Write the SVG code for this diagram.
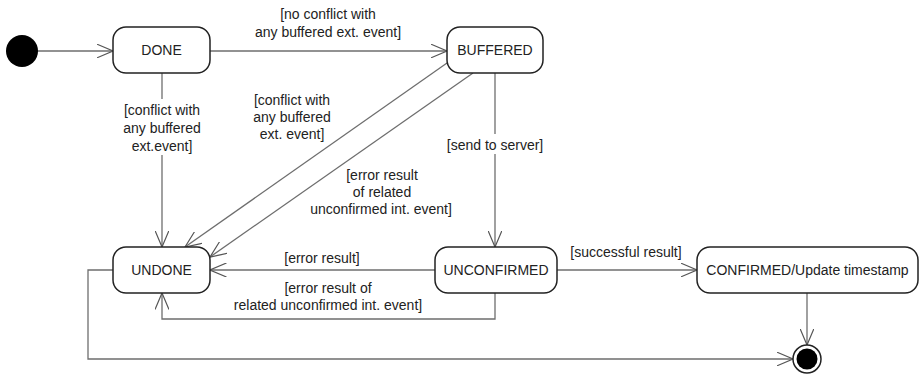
<svg xmlns="http://www.w3.org/2000/svg" width="920" height="374" viewBox="0 0 920 374">
  <style>
    .state rect { fill: #ffffff; stroke: #222222; stroke-width: 1.5; }
    .state text { font-family: "Liberation Sans", Arial, sans-serif; font-size: 14px; fill: #222222; text-anchor: middle; }
    .edge { fill: none; stroke: #6e6e6e; stroke-width: 1.3; marker-end: url(#open); }
    .label { font-family: "Liberation Sans", Arial, sans-serif; font-size: 14px; fill: #222222; text-anchor: middle; }
    .mask { fill: #ffffff; }
  </style>
  <defs>
    <marker id="open" viewBox="0 0 17 14" refX="16.5" refY="7" markerWidth="17" markerHeight="14" markerUnits="userSpaceOnUse" orient="auto">
      <path d="M0,0 L16.5,7 L0,14" fill="none" stroke="#555555" stroke-width="1.2"/>
    </marker>
  </defs>
  <rect width="920" height="374" fill="#ffffff"/>

  <!-- transitions -->
  <g id="connectors">
    <path class="edge" d="M38,51 L113,51"/>
    <path class="edge" d="M210,51 L447,51"/>
    <path class="edge" d="M162,73 L162,247"/>
    <path class="edge" d="M447,63 L185,247"/>
    <path class="edge" d="M473,73 L210,257"/>
    <path class="edge" d="M495,73 L495,247"/>
    <path class="edge" d="M435,270 L210,270"/>
    <path class="edge" d="M495,293 L495,319 L162,319 L162,293"/>
    <path class="edge" d="M557,270 L697,270"/>
    <path class="edge" d="M807,293 L807,345"/>
    <path class="edge" d="M113,270 L88,270 L88,359 L793,359"/>

    <!-- guard labels -->
    <text class="label" x="328" y="19">[no conflict with</text>
    <text class="label" x="328" y="37">any buffered ext. event]</text>

    <rect class="mask" x="118" y="99" width="88" height="56"/>
    <text class="label" x="162" y="115">[conflict with</text>
    <text class="label" x="162" y="133">any buffered</text>
    <text class="label" x="162" y="151">ext.event]</text>

    <text class="label" x="292" y="105">[conflict with</text>
    <text class="label" x="292" y="122">any buffered</text>
    <text class="label" x="292" y="139">ext. event]</text>

    <text class="label" x="382" y="180">[error result</text>
    <text class="label" x="382" y="197">of related</text>
    <text class="label" x="381" y="214">unconfirmed int. event]</text>

    <rect class="mask" x="446" y="134" width="100" height="20"/>
    <text class="label" x="495" y="150">[send to server]</text>

    <text class="label" x="322" y="263">[error result]</text>
    <text class="label" x="328" y="293">[error result of</text>
    <text class="label" x="328" y="310">related unconfirmed int. event]</text>

    <text class="label" x="626" y="257">[successful result]</text>
  </g>

  <!-- pseudo states -->
  <g id="initial">
    <circle cx="22" cy="51" r="16" fill="#000000"/>
  </g>
  <g id="final">
    <circle cx="807" cy="359" r="14" fill="#ffffff" stroke="#222222" stroke-width="1.5"/>
    <circle cx="807" cy="359" r="10.5" fill="#000000"/>
  </g>

  <!-- states -->
  <g id="done" class="state">
    <rect x="113" y="27" width="97" height="46" rx="13"/>
    <text x="161.5" y="55">DONE</text>
  </g>
  <g id="buffered" class="state">
    <rect x="447" y="27" width="96" height="46" rx="13"/>
    <text x="495" y="55">BUFFERED</text>
  </g>
  <g id="undone" class="state">
    <rect x="113" y="247" width="97" height="46" rx="13"/>
    <text x="161.5" y="275">UNDONE</text>
  </g>
  <g id="unconfirmed" class="state">
    <rect x="435" y="247" width="122" height="46" rx="13"/>
    <text x="496" y="275">UNCONFIRMED</text>
  </g>
  <g id="confirmed" class="state">
    <rect x="697" y="247" width="221" height="46" rx="13"/>
    <text x="807.5" y="275">CONFIRMED/Update timestamp</text>
  </g>
</svg>
